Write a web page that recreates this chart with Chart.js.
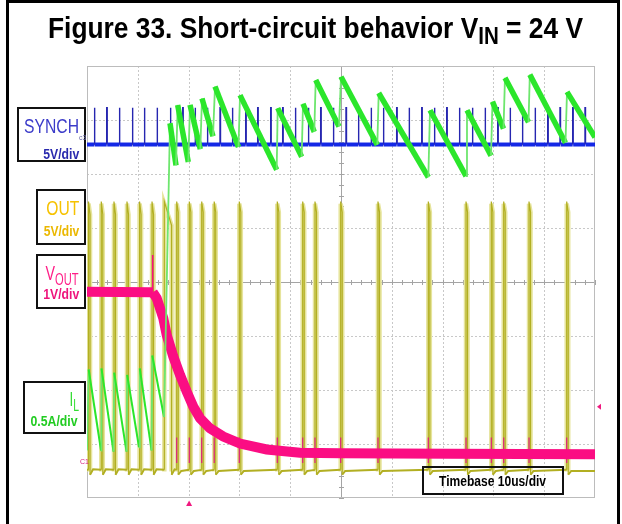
<!DOCTYPE html>
<html><head><meta charset="utf-8">
<script src="https://cdn.jsdelivr.net/npm/chart.js@4.4.1/dist/chart.umd.min.js"></script>
<style>
html,body{margin:0;padding:0;background:#fff;}
#wrap{position:relative;width:622px;height:524px;overflow:hidden;background:#fff;}
#c{position:absolute;left:0;top:0;}
.frame{position:absolute;background:#000;}
.box{position:absolute;border:2px solid #111;box-sizing:border-box;}
.t{position:absolute;left:0;top:0;white-space:nowrap;font-family:"Liberation Sans",Arial,"DejaVu Sans",sans-serif;line-height:1;}
.t sub{font-size:0.78em;position:relative;top:0.28em;vertical-align:baseline;line-height:0;}
</style></head>
<body><div id="wrap">
<canvas id="c" width="622" height="524"></canvas>
<div class="frame" style="left:6px;top:0;width:614px;height:3px"></div>
<div class="frame" style="left:6px;top:0;width:3px;height:524px"></div>
<div class="frame" style="left:617px;top:0;width:3px;height:524px"></div>
<div class="box" style="left:17px;top:107px;width:69px;height:55px"></div>
<div class="box" style="left:36px;top:189px;width:50px;height:56px"></div>
<div class="box" style="left:36px;top:254px;width:50px;height:55px"></div>
<div class="box" style="left:23px;top:381px;width:63px;height:53px"></div>
<div class="box" style="left:422px;top:466px;width:142px;height:29px"></div>
</div>
<script>
// ---------------- data ----------------
const timeGrid = [0,10,20,30,40,50,60,70,80,90,100];      // us  (10 us/div)
const divGrid  = [-4,-3,-2,-1,0,1,2,3,4];                 // screen divisions

// SYNCH (V): pulse times (us)
const synchPulseT = [1.44,3.88,6.36,8.92,11.28,13.78,16.40,18.84,21.26,23.68,26.18,28.60,31.24,33.60,36.16,38.52,41.00,43.56,46.00,48.48,50.98,53.41,55.91,58.33,60.96,63.39,65.89,68.37,70.81,73.29,75.85,78.35,80.85,83.27,85.69,88.19,90.69,93.11,95.61,98.03];
const synchHigh = 3.4;

// OUT (V): switching pulses
const outPulseT   = [0.30,2.81,5.31,7.87,10.35,12.80,15.22,17.66,20.14,22.58,25.04,29.98,37.46,42.46,44.88,49.94,57.28,67.19,74.61,79.59,82.03,87.01,94.43];
const outPulseW   = [0.3,0.3,0.3,0.3,0.3,0.3,1.43,0.3,0.3,0.3,0.3,0.3,0.3,0.3,0.3,0.3,0.3,0.3,0.3,0.3,0.3,0.3,0.3];
const outPulseEnd = [23.8,23.8,23.8,23.8,23.8,23.8,22.8,24,24,24,24,24,24,24,24,24,24,24,24,24,24,24,24];
const outPulseTop = 25;

// VOUT (V)
const voutT = [0,12.4,12.85,12.9,12.95,13.72,15.02,15.69,16.99,18.31,19.63,20.93,22.24,24.21,26.83,30.12,35.37,41.93,49.8,71.5,100];
const voutV = [3.30,3.29,3.29,3.98,3.29,3.18,2.81,2.50,2.10,1.76,1.45,1.17,0.96,0.77,0.62,0.49,0.38,0.32,0.31,0.30,0.29];
const voutSpikeHi = 0.6, voutSpikeLo = 0.13;

// IL (A)
const ilT = [0,0.33,2.76,2.85,5.22,5.35,7.78,7.91,10.24,10.39,12.70,12.85,15.16,16.34,17.52,17.85,19.94,20.28,22.30,22.64,24.80,25.20,29.82,30.12,37.34,37.54,42.26,42.52,44.74,45.02,49.61,50.00,57.15,57.42,67.19,67.52,74.61,74.80,79.53,79.82,81.99,82.28,86.91,87.17,94.19,94.49,100];
const ilA = [0.44,1.19,0.44,1.20,0.43,1.16,0.43,1.14,0.47,1.20,0.44,1.32,0.75,3.47,3.08,3.64,3.11,3.64,3.23,3.70,3.35,3.81,3.25,3.73,3.04,3.61,3.16,3.65,3.39,3.87,3.44,3.90,3.27,3.75,2.97,3.59,2.98,3.59,3.17,3.67,3.42,3.89,3.48,3.92,3.29,3.76,3.34];

const triggerTime = 20.1;   // us
const triggerLevel = 1.17;  // V on VOUT

// ---------------- channel setup ----------------
const channels = {
  synch: {perDiv:5,   groundDiv: 2.546},
  out:   {perDiv:5,   groundDiv:-3.509},
  vout:  {perDiv:1,   groundDiv:-3.481},
  il:    {perDiv:0.5, groundDiv:-4}
};
function axisFor(ch){ return {type:'linear', display:false, min:(-4-ch.groundDiv)*ch.perDiv, max:(4-ch.groundDiv)*ch.perDiv}; }

// ---------------- build datasets ----------------
const synchData = [{x:0,y:0}];
synchPulseT.forEach(t=>{ synchData.push({x:t,y:0},{x:t,y:synchHigh},{x:t+0.1,y:synchHigh},{x:t+0.1,y:0}); });
synchData.push({x:100,y:0});

const outData = [{x:0,y:0.15}];
const glowData = [];
outPulseT.forEach((t,i)=>{
  const w = outPulseW[i];
  outData.push({x:t,y:0.15},{x:t,y:outPulseTop},{x:t+w,y:outPulseEnd[i]},{x:t+w,y:-0.3},{x:t+w+0.6,y:t<16?0.2:0.05});
  glowData.push({x:t,y:0},{x:t,y:outPulseTop-0.2},{x:t+w,y:outPulseEnd[i]},{x:t+w,y:0},{x:t+w,y:null});
});
outData.push({x:100,y:0.05});

const voutData = voutT.map((t,i)=>({x:t,y:voutV[i]}));
const spikeData = [];
outPulseT.filter(t=>t>17).forEach(t=>{ spikeData.push({x:t,y:voutSpikeHi},{x:t,y:voutSpikeLo},{x:t,y:null}); });
const ilData = ilT.map((t,i)=>({x:t,y:ilA[i]}));

// ---------------- plugins ----------------
const graticule = {
  id:'graticule',
  beforeDatasetsDraw(chart){
    const {ctx, chartArea:a, scales} = chart; const x=scales.x, y=scales.yDiv;
    ctx.save();
    ctx.lineWidth=1; ctx.strokeStyle='#c8c8c8'; ctx.setLineDash([2,2]);
    timeGrid.forEach(v=>{ if(v===0||v===100||v===50) return; const p=Math.round(x.getPixelForValue(v))+0.5; ctx.beginPath(); ctx.moveTo(p,a.top); ctx.lineTo(p,a.bottom); ctx.stroke(); });
    divGrid.forEach(v=>{ if(Math.abs(v)===4||v===0) return; const p=Math.round(y.getPixelForValue(v))+0.5; ctx.beginPath(); ctx.moveTo(a.left,p); ctx.lineTo(a.right,p); ctx.stroke(); });
    ctx.setLineDash([]); ctx.strokeStyle='#a4a4a4';
    const cx=Math.round(x.getPixelForValue(50))+0.5, cy=Math.round(y.getPixelForValue(0))+0.5;
    ctx.beginPath(); ctx.moveTo(cx,a.top); ctx.lineTo(cx,a.bottom); ctx.moveTo(a.left,cy); ctx.lineTo(a.right,cy); ctx.stroke();
    ctx.beginPath();
    for(let v=0; v<=100.001; v+=2){ const p=Math.round(x.getPixelForValue(v))+0.5; ctx.moveTo(p,cy-2.5); ctx.lineTo(p,cy+2.5); }
    for(let v=-4; v<=4.001; v+=0.2){ const p=Math.round(y.getPixelForValue(v))+0.5; ctx.moveTo(cx-2.5,p); ctx.lineTo(cx+2.5,p); }
    ctx.stroke();
    ctx.strokeStyle='#bcbcbc';
    ctx.strokeRect(Math.round(a.left)+0.5, Math.round(a.top)+0.5, Math.round(a.width)-1, Math.round(a.height)-1);
    ctx.restore();
  },
  afterDatasetsDraw(chart){
    const {ctx, chartArea:a, scales} = chart;
    ctx.save(); ctx.fillStyle='#f0187f';
    const tx=scales.x.getPixelForValue(triggerTime);
    ctx.beginPath(); ctx.moveTo(tx,a.bottom+2.5); ctx.lineTo(tx-3,a.bottom+8); ctx.lineTo(tx+3,a.bottom+8); ctx.closePath(); ctx.fill();
    const ty=scales.yVout.getPixelForValue(triggerLevel);
    ctx.beginPath(); ctx.moveTo(a.right+2,ty); ctx.lineTo(a.right+6,ty-3); ctx.lineTo(a.right+6,ty+3); ctx.closePath(); ctx.fill();
    ctx.restore();
  }
};

const isVert = c => c.p0.parsed.x === c.p1.parsed.x;
const rising = c => c.p1.parsed.y > c.p0.parsed.y;

new Chart(document.getElementById('c'), {
  type:'line',
  data:{ datasets:[
    { label:'IL', data:ilData, yAxisID:'yIL', order:0, borderColor:'#2be62b', borderWidth:5.5,
      segment:{ borderWidth:c=> rising(c) ? 1.8 : (c.p0.parsed.x<15 ? 2 : 5.5),
                borderColor:c=> rising(c) ? '#6ee66e' : '#2be62b' } },
    { label:'VOUT', data:voutData, yAxisID:'yVout', order:1, borderColor:'#fb0d83', borderWidth:10,
      segment:{ borderWidth:c=> (c.p1.parsed.x-c.p0.parsed.x<0.1) ? 1.5 : 10 } },
    { label:'VOUT spikes', data:spikeData, yAxisID:'yVout', order:1, borderColor:'#e0207f', borderWidth:1.2, spanGaps:false },
    { label:'SYNCH', data:synchData, yAxisID:'ySynch', order:2, borderColor:'#1428e6', borderWidth:4,
      segment:{ borderWidth:c=> (isVert(c)||c.p0.parsed.y>1) ? 1.4 : 4,
                borderColor:c=> (isVert(c)||c.p0.parsed.y>1) ? '#2626b0' : '#1428e6' } },
    { label:'OUT', data:outData, yAxisID:'yOut', order:3, borderColor:'#b2af22', borderWidth:2,
      segment:{ borderWidth:c=> (isVert(c)||c.p0.parsed.y>5) ? 1.2 : 2 } },
    { label:'OUT glow', data:glowData, yAxisID:'yOut', order:4, borderWidth:4.5, borderColor:'#e6e49c', spanGaps:false }
  ]},
  options:{
    responsive:false, animation:false, devicePixelRatio:1, events:[],
    layout:{ padding:{ left:87, top:66, right:27, bottom:26 } },
    plugins:{ legend:{display:false}, tooltip:{enabled:false}, title:{display:false} },
    elements:{ point:{ radius:0 }, line:{ tension:0 } },
    scales:{
      x:{ type:'linear', display:false, min:0, max:100 },
      yDiv:{ type:'linear', display:false, min:-4, max:4 },
      ySynch: axisFor(channels.synch),
      yOut: axisFor(channels.out),
      yVout: axisFor(channels.vout),
      yIL: axisFor(channels.il)
    }
  },
  plugins:[graticule]
});

// ---------------- text (real HTML text) ----------------
const wrap = document.getElementById('wrap');
function put(html, o){
  const el=document.createElement('div'); el.className='t'; el.innerHTML=html;
  el.style.fontSize=o.size+'px'; el.style.fontWeight=o.bold?'700':'400'; el.style.color=o.color;
  wrap.appendChild(el);
  const w=el.getBoundingClientRect().width;
  const k=o.width? o.width/w : 1;
  let left;
  if(o.anchor==='right'){ left=o.x-w; el.style.transformOrigin='100% 0'; }
  else if(o.anchor==='center'){ left=o.x-w/2; el.style.transformOrigin='50% 0'; }
  else { left=o.x; el.style.transformOrigin='0 0'; }
  el.style.left=left+'px'; el.style.top=(o.baseline-0.8465*o.size)+'px';
  el.style.transform='scaleX('+k+')';
}
put('Figure 33. Short-circuit behavior V<sub>IN</sub> = 24 V',{size:30,bold:true,color:'#000',anchor:'left',x:48,baseline:38,width:535});
put('SYNCH',{size:20,color:'#3b3bc9',anchor:'right',x:79,baseline:132.5,width:55});
put('5V/div',{size:15,bold:true,color:'#2a2aae',anchor:'right',x:79,baseline:158.5,width:36});
put('OUT',{size:21,color:'#f6c200',anchor:'right',x:79,baseline:215,width:33});
put('5V/div',{size:15,bold:true,color:'#ebb800',anchor:'right',x:79,baseline:236,width:35.5});
put('V<sub>OUT</sub>',{size:21,color:'#ff1f88',anchor:'right',x:79,baseline:280,width:33});
put('1V/div',{size:15,bold:true,color:'#ee147c',anchor:'right',x:79,baseline:299,width:36});
put('I<sub>L</sub>',{size:21,color:'#33dd33',anchor:'right',x:79,baseline:406,width:9.5});
put('0.5A/div',{size:15,bold:true,color:'#22cc22',anchor:'right',x:78,baseline:426,width:47});
put('Timebase 10us/div',{size:15,bold:true,color:'#000',anchor:'center',x:493,baseline:486,width:107});
put('c3',{size:7,color:'#6a6aa8',anchor:'left',x:79,baseline:140});
put('C1',{size:7,color:'#d8247f',anchor:'left',x:80,baseline:464});
</script>
</body></html>
